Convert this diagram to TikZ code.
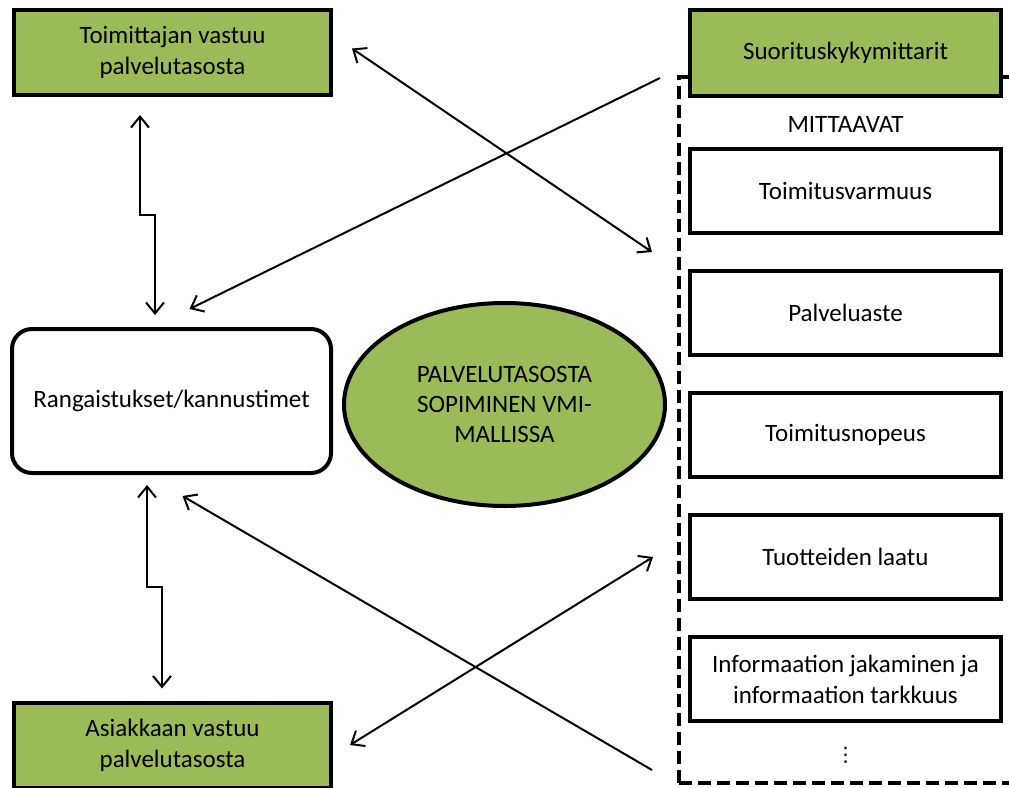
\documentclass[tikz,border=0pt]{standalone}
\usepackage{fontspec}
\setmainfont{Carlito}
\newfontfamily\symfont{DejaVu Sans}
\usepackage{tikz}
\usetikzlibrary{arrows.meta,shapes.geometric,positioning}

\definecolor{vmigreen}{HTML}{9BBB59}

\begin{document}
\begin{tikzpicture}[>={Straight Barb[length=11pt,width=18pt]}, x=1pt, y=-1pt, node distance=122pt,
	font=\fontsize{25}{31}\selectfont,
	greenbox/.style={draw, line width=4pt, fill=vmigreen, align=center, inner sep=0pt,
		minimum width=317pt, minimum height=85pt},
	mittari/.style={draw, line width=4pt, fill=white, align=center, inner sep=0pt,
		minimum width=311pt, minimum height=84pt},
	frame/.style={draw, line width=4pt, dash pattern=on 13pt off 6pt, outer sep=0pt,
		minimum width=336pt, minimum height=706pt},
	link/.style={line width=2pt}]
	\useasboundingbox (0,0) rectangle (1009,787);

	% Nodes, left column
	\node [greenbox] 								(sup) at (172.5,52.5)	{Toimittajan vastuu\\palvelutasosta};
	\node [draw, line width=4pt, rounded corners=20pt, inner sep=0pt,
		minimum width=319pt, minimum height=144pt] 	(pen) at (171.5,401)	{Rangaistukset/kannustimet};
	\node [greenbox] 								(asi) at (172.5,745)	{Asiakkaan vastuu\\palvelutasosta};

	% VMI ellipse in the middle
	\node [ellipse, draw, line width=4pt, fill=vmigreen, align=center, inner sep=0pt,
		minimum width=321pt, minimum height=203pt, font=\fontsize{25}{30}\selectfont]
													(vmi) at (504.5,404.5)	{PALVELUTASOSTA\\SOPIMINEN VMI-\\MALLISSA};

	% Nodes, right column (dashed frame first, header box over it)
	\node [frame] 									(frame) at (847,430)	{};
	\node [greenbox, minimum width=311pt, minimum height=86pt]
													(kpi) at (845.5,53)		{Suorituskykymittarit};
	\node 											(mitt) at (845.5,124)	{MITTAAVAT};
	\node [mittari] 								(m1) at (845.5,191)		{Toimitusvarmuus};
	\node [mittari] 								(m2) [below of=m1]		{Palveluaste};
	\node [mittari] 								(m3) [below of=m2]		{Toimitusnopeus};
	\node [mittari] 								(m4) [below of=m3]		{Tuotteiden laatu};
	\node [mittari] 								(m5) [below of=m4]		{Informaation jakaminen ja\\informaation tarkkuus};
	\node [font=\fontsize{20}{24}\symfont] 			(more) at (845.5,755)	{⋮};

	% Paths
	% Zigzag links above and below the penalty box
	\draw [link, <->] ([xshift=-32.5pt,yshift=-18pt]sup.south) -- ++(0,100)
		-| ([xshift=-16.5pt,yshift=12pt]pen.north);
	\draw [link, <->] ([xshift=-24.5pt,yshift=-10pt]pen.south) -- ++(0,102)
		-| ([xshift=-10.5pt,yshift=12pt]asi.north);

	% Crossing links between the columns
	\draw [link, <->] ([xshift=19pt,yshift=4pt]sup.east) -- ([xshift=-36pt,yshift=61pt]m2.west);
	\draw [link, ->] ([xshift=-19pt,yshift=-1pt]frame.north west) -- ([xshift=18pt,yshift=18pt]pen.north);
	\draw [link, ->] ([xshift=-27pt,yshift=13pt]frame.south west) -- ([xshift=11pt,yshift=-21pt]pen.south);
	\draw [link, <->] ([xshift=17pt]asi.east) -- ([xshift=-35pt]m4.west);

\end{tikzpicture}
\end{document}
